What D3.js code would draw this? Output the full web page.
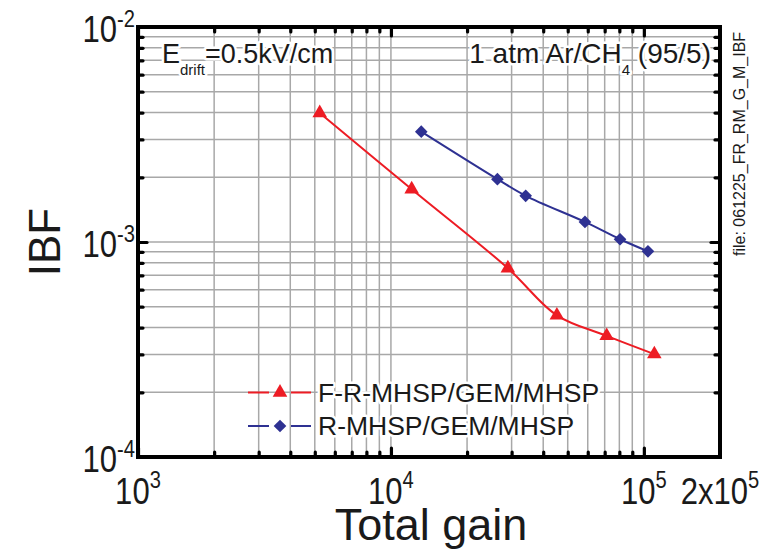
<!DOCTYPE html>
<html><head><meta charset="utf-8">
<script src="https://cdn.jsdelivr.net/npm/d3@7"></script>
<style>body{margin:0;background:#fff} text{font-family:"Liberation Sans",Arial,Helvetica,sans-serif;fill:#1a1a1a}</style>
</head><body><svg id="c" width="759" height="550"></svg>
<script>
// ---- data ----
const redGain = [5230, 12080, 29000, 45300, 71300, 110000];
const redIBF  = [3.98e-3, 1.76e-3, 7.55e-4, 4.56e-4, 3.66e-4, 3.01e-4];
const blueGain = [13180, 26360, 34100, 58500, 80500, 103800];
const blueIBF  = [3.26e-3, 1.96e-3, 1.64e-3, 1.24e-3, 1.03e-3, 9.05e-4];
const seriesNames = ["F-R-MHSP/GEM/MHSP", "R-MHSP/GEM/MHSP"];
const xTickValues = [1e3, 1e4, 1e5, 2e5];
const xTickBase = ["10", "10", "10", "2x10"];
const xTickExp = ["3", "4", "5", "5"];
const yTickValues = [1e-2, 1e-3, 1e-4];
const yTickBase = ["10", "10", "10"];
const yTickExp = ["-2", "-3", "-4"];
const xTitle = "Total gain", yTitle = "IBF";
const fileTag = "file: 061225_FR_RM_G_M_IBF";

// ---- layout ----
const L = 138, R = 720, T = 27, B = 457;
const RED = "#ed1c24", BLUE = "#2e3192", GRID = "#a8a8a8";
const x = d3.scaleLog().domain([1e3, 2e5]).range([L, R]);
const y = d3.scaleLog().domain([1e-4, 1e-2]).range([B, T]);
const svg = d3.select("#c");

const xAll = [];
[1e3, 1e4, 1e5].forEach(d => { for (let k = 1; k <= 9; k++) { const v = d * k; if (v <= 2e5 * 1.0001) xAll.push(v); } });
const yAll = [];
[1e-4, 1e-3].forEach(d => { for (let k = 1; k <= 9; k++) yAll.push(d * k); });
yAll.push(1e-2);
const isMajor = v => Math.abs(Math.log10(v) - Math.round(Math.log10(v))) < 1e-6;

// grid
const grid = svg.append("g");
grid.selectAll("line.gx").data(xAll.filter(v => v > 1e3 * 1.001 && v < 2e5 * 0.999)).join("line")
  .attr("x1", d => x(d)).attr("x2", d => x(d)).attr("y1", T).attr("y2", B)
  .attr("stroke", GRID).attr("stroke-width", 1.5);
grid.selectAll("line.gy").data(yAll.filter(v => v > 1e-4 * 1.001 && v < 1e-2 * 0.999)).join("line")
  .attr("x1", L).attr("x2", R).attr("y1", d => y(d)).attr("y2", d => y(d))
  .attr("stroke", GRID).attr("stroke-width", 1.5);

// data
const redPts = redGain.map((g, i) => [g, redIBF[i]]);
const bluePts = blueGain.map((g, i) => [g, blueIBF[i]]);
const line = d3.line().x(d => x(d[0])).y(d => y(d[1])).curve(d3.curveCatmullRom.alpha(0.5));
svg.append("path").attr("d", line(redPts)).attr("fill", "none").attr("stroke", RED).attr("stroke-width", 2);
svg.append("path").attr("d", line(bluePts)).attr("fill", "none").attr("stroke", BLUE).attr("stroke-width", 2);
const tri = d3.symbol(d3.symbolTriangle, 92);
const dia = d3.symbol(d3.symbolSquare, 80);
svg.selectAll("path.rm").data(redPts).join("path").attr("d", tri)
  .attr("transform", d => `translate(${x(d[0])},${y(d[1])})`).attr("fill", RED);
svg.selectAll("path.bm").data(bluePts).join("path").attr("d", dia)
  .attr("transform", d => `translate(${x(d[0])},${y(d[1])}) rotate(45)`).attr("fill", BLUE);

// annotations with white halo
function halo(sel) { return sel.attr("stroke", "#fff").attr("stroke-width", 5).attr("paint-order", "stroke").attr("stroke-linejoin", "round"); }
const a1 = halo(svg.append("text").attr("x", 162).attr("y", 63).attr("font-size", 27));
a1.append("tspan").text("E");
a1.append("tspan").attr("font-size", 15).attr("dy", 12).text("drift");
a1.append("tspan").attr("dy", -12).text("=0.5kV/cm");
const a2 = halo(svg.append("text").attr("x", 711).attr("y", 63).attr("font-size", 28).attr("text-anchor", "end"));
a2.append("tspan").text("1 atm Ar/CH");
a2.append("tspan").attr("font-size", 15).attr("dy", 12).text("4");
a2.append("tspan").attr("dy", -12).text(" (95/5)");

// legend
const legRows = [{ name: seriesNames[0], color: RED, sym: tri, rot: 0, yy: 392.5 },
                 { name: seriesNames[1], color: BLUE, sym: dia, rot: 45, yy: 426 }];
const lg = svg.append("g");
legRows.forEach(r => {
  lg.append("line").attr("x1", 248).attr("x2", 269).attr("y1", r.yy).attr("y2", r.yy).attr("stroke", r.color).attr("stroke-width", 2);
  lg.append("line").attr("x1", 291).attr("x2", 311).attr("y1", r.yy).attr("y2", r.yy).attr("stroke", r.color).attr("stroke-width", 2);
  lg.append("path").attr("d", r.sym).attr("transform", `translate(280,${r.yy}) rotate(${r.rot})`).attr("fill", r.color);
  halo(lg.append("text").attr("x", 318).attr("y", r.yy + 9).attr("font-size", 26.5).text(r.name));
});

// ticks (inward, all sides)
function styleAxis(gsel) {
  gsel.select(".domain").remove();
  gsel.selectAll(".tick text").remove();
  gsel.selectAll(".tick line").attr("stroke", "#000").attr("stroke-width", 3.2).attr("stroke-linecap", "round");
}
const xMinor = xAll.filter(v => !isMajor(v) && v < 2e5 * 0.999), xMajor = xAll.filter(isMajor);
const yMinor = yAll.filter(v => !isMajor(v)), yMajor = yAll.filter(isMajor);
[[d3.axisBottom, B, xMinor, 5], [d3.axisBottom, B, xMajor, 9], [d3.axisTop, T, xMinor, 5], [d3.axisTop, T, xMajor, 9]].forEach(([ax, yy, vals, len]) => {
  svg.append("g").attr("transform", `translate(0,${yy})`).call(ax(x).tickValues(vals).tickSize(-len).tickFormat("")).call(styleAxis);
});
[[d3.axisLeft, L, yMinor, 5], [d3.axisLeft, L, yMajor, 9], [d3.axisRight, R, yMinor, 5], [d3.axisRight, R, yMajor, 9]].forEach(([ax, xx, vals, len]) => {
  svg.append("g").attr("transform", `translate(${xx},0)`).call(ax(y).tickValues(vals).tickSize(-len).tickFormat("")).call(styleAxis);
});

// frame
svg.append("rect").attr("x", L).attr("y", T).attr("width", R - L).attr("height", B - T)
  .attr("fill", "none").attr("stroke", "#000").attr("stroke-width", 4);

// tick labels (condensed)
const SX = 0.84;
xTickValues.forEach((v, i) => {
  const t = svg.append("text").attr("transform", `translate(${x(v)},504) scale(${SX},1)`).attr("text-anchor", "middle").attr("font-size", 37);
  t.append("tspan").text(xTickBase[i]);
  t.append("tspan").attr("font-size", 24).attr("dy", -16).text(xTickExp[i]);
});
yTickValues.forEach((v, i) => {
  const t = svg.append("text").attr("transform", `translate(135,${y(v) + 15}) scale(${SX},1)`).attr("text-anchor", "end").attr("font-size", 37);
  t.append("tspan").text(yTickBase[i]);
  t.append("tspan").attr("font-size", 24).attr("dy", -15).text(yTickExp[i]);
});

// titles
svg.append("text").attr("x", (L + R) / 2 + 2).attr("y", 540).attr("text-anchor", "middle").attr("font-size", 45).text(xTitle);
svg.append("text").attr("transform", "translate(60,242) rotate(-90)").attr("text-anchor", "middle").attr("font-size", 44).text(yTitle);
svg.append("text").attr("transform", "translate(745,256) rotate(-90)").attr("font-size", 16).text(fileTag);
</script></body></html>
